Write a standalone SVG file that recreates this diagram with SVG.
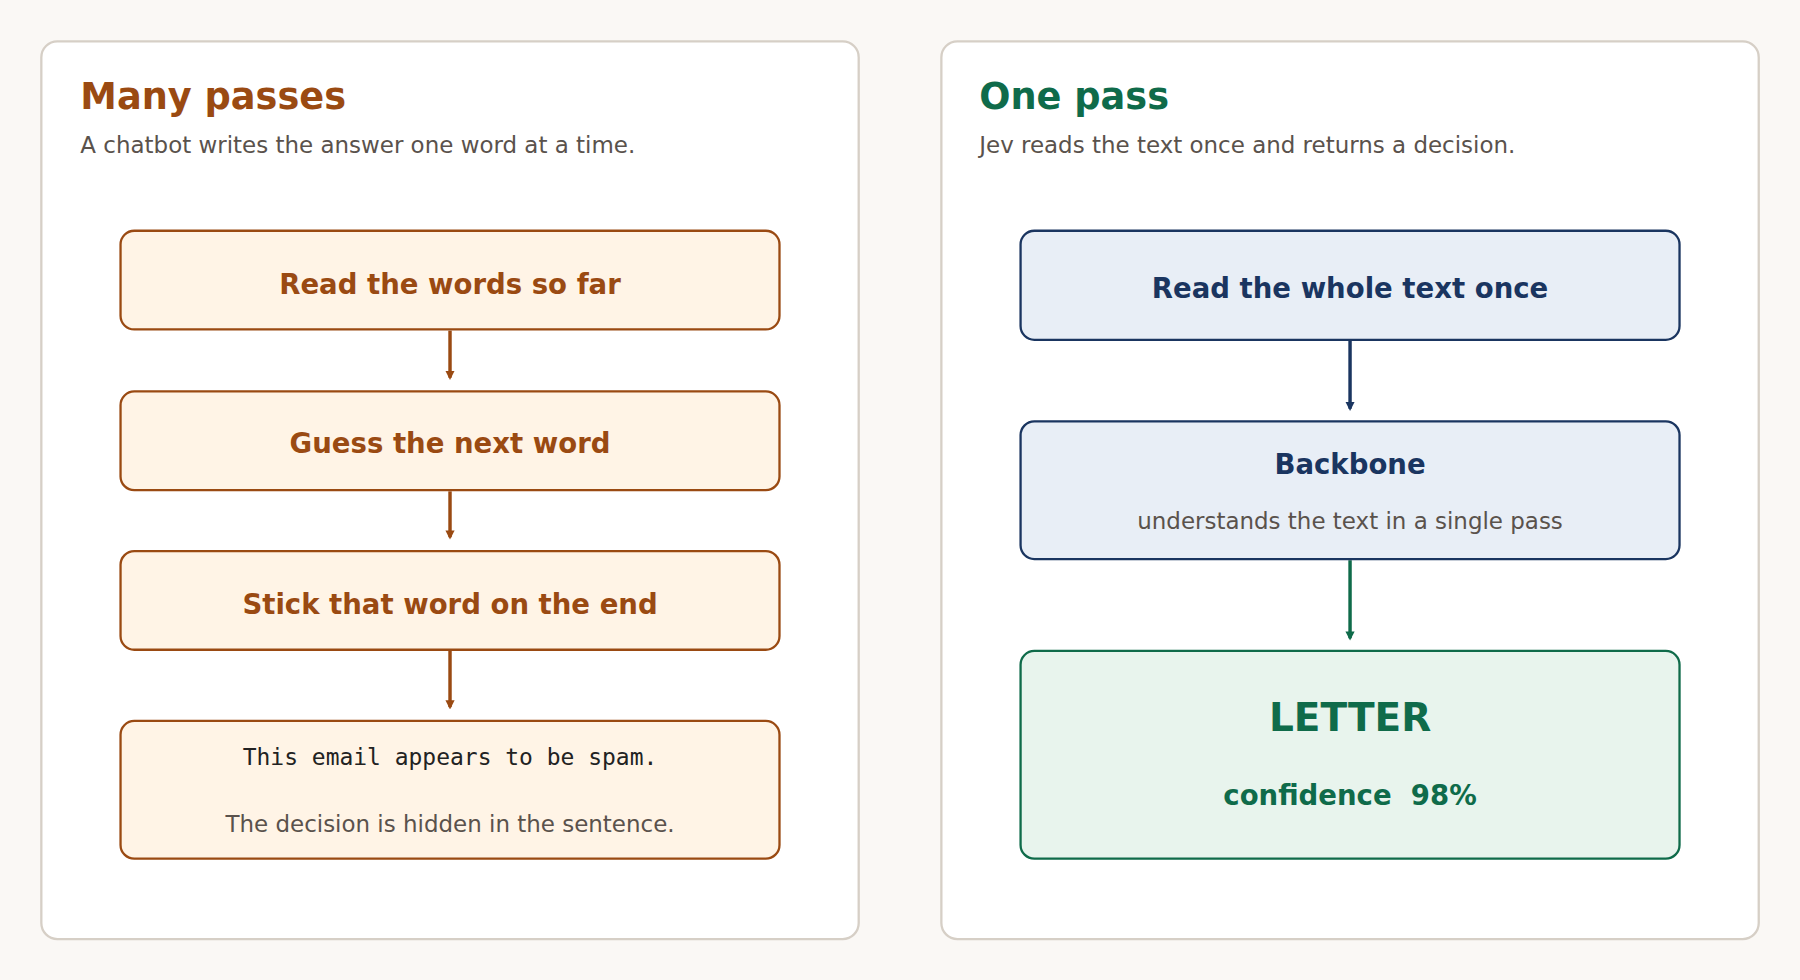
<svg xmlns="http://www.w3.org/2000/svg" width="1800" height="980" viewBox="0 0 1800 980">
<defs>
<style>
.panel{fill:#fff;stroke:#d6cfc6;stroke-width:2}
.t{font-family:"DejaVu Sans",sans-serif}
.ob{fill:#fff4e6;stroke:#9a4a12;stroke-width:2}
.bb{fill:#e8eef6;stroke:#1a3560;stroke-width:2}
.gb{fill:#e8f4ed;stroke:#0f6b4a;stroke-width:2}
.ol{font-family:"DejaVu Sans",sans-serif;font-weight:bold;font-size:24px;fill:#9a4a12;text-anchor:middle}
.sub{font-family:"DejaVu Sans",sans-serif;font-size:20px;fill:#5a524c}
</style>
<marker id="ao" markerWidth="8" markerHeight="8" refX="6" refY="4" orient="auto" markerUnits="userSpaceOnUse" viewBox="0 0 8 8"><path d="M0,0L8,4L0,8z" fill="#9a4a12"/></marker>
<marker id="ab" markerWidth="8" markerHeight="8" refX="6" refY="4" orient="auto" markerUnits="userSpaceOnUse" viewBox="0 0 8 8"><path d="M0,0L8,4L0,8z" fill="#1a3560"/></marker>
<marker id="ag" markerWidth="8" markerHeight="8" refX="6" refY="4" orient="auto" markerUnits="userSpaceOnUse" viewBox="0 0 8 8"><path d="M0,0L8,4L0,8z" fill="#0f6b4a"/></marker>
</defs>
<rect width="1800" height="980" fill="#faf8f5"/>
<g transform="scale(1.148)">
<g id="left-panel">
<rect class="panel" x="36" y="36" width="712" height="782" rx="14"/>
<text x="70" y="95" class="t" font-size="32" font-weight="bold" fill="#9a4a12">Many passes</text>
<text x="70" y="133" class="sub">A chatbot writes the answer one word at a time.</text>
</g>
<g id="right-panel">
<rect class="panel" x="820" y="36" width="712" height="782" rx="14"/>
<text x="853" y="95" class="t" font-size="32" font-weight="bold" fill="#0f6b4a">One pass</text>
<text x="853" y="133" class="sub">Jev reads the text once and returns a decision.</text>
</g>
<g id="connectors" stroke-width="3">
<line x1="392" y1="288" x2="392" y2="329" stroke="#9a4a12" marker-end="url(#ao)"/>
<line x1="392" y1="428" x2="392" y2="468" stroke="#9a4a12" marker-end="url(#ao)"/>
<line x1="392" y1="567" x2="392" y2="616" stroke="#9a4a12" marker-end="url(#ao)"/>
<line x1="1176" y1="297" x2="1176" y2="356" stroke="#1a3560" marker-end="url(#ab)"/>
<line x1="1176" y1="488" x2="1176" y2="556" stroke="#0f6b4a" marker-end="url(#ag)"/>
</g>
<g id="n1"><rect class="ob" x="105" y="201" width="574" height="86" rx="12"/><text class="ol" x="392" y="256">Read the words so far</text></g>
<g id="n2"><rect class="ob" x="105" y="341" width="574" height="86" rx="12"/><text class="ol" x="392" y="395">Guess the next word</text></g>
<g id="n3"><rect class="ob" x="105" y="480" width="574" height="86" rx="12"/><text class="ol" x="392" y="535">Stick that word on the end</text></g>
<g id="n4"><rect class="ob" x="105" y="628" width="574" height="120" rx="12"/>
<text x="392" y="666" font-family="DejaVu Sans Mono,monospace" font-size="20" fill="#222" text-anchor="middle">This email appears to be spam.</text>
<text x="392" y="725" class="sub" text-anchor="middle">The decision is hidden in the sentence.</text></g>
<g id="r1"><rect class="bb" x="889" y="201" width="574" height="95" rx="12"/><text class="t" x="1176" y="260" font-size="24" font-weight="bold" fill="#1a3560" text-anchor="middle">Read the whole text once</text></g>
<g id="r2"><rect class="bb" x="889" y="367" width="574" height="120" rx="12"/><text class="t" x="1176" y="413" font-size="24" font-weight="bold" fill="#1a3560" text-anchor="middle">Backbone</text>
<text x="1176" y="461" class="sub" text-anchor="middle">understands the text in a single pass</text></g>
<g id="r3"><rect class="gb" x="889" y="567" width="574" height="181" rx="12"/><text class="t" x="1176" y="637" font-size="34" font-weight="bold" fill="#0f6b4a" text-anchor="middle">LETTER</text>
<text class="t" x="1176" y="701" font-size="24" font-weight="bold" fill="#0f6b4a" text-anchor="middle" xml:space="preserve">confidence  98%</text></g>
</g>
</svg>
